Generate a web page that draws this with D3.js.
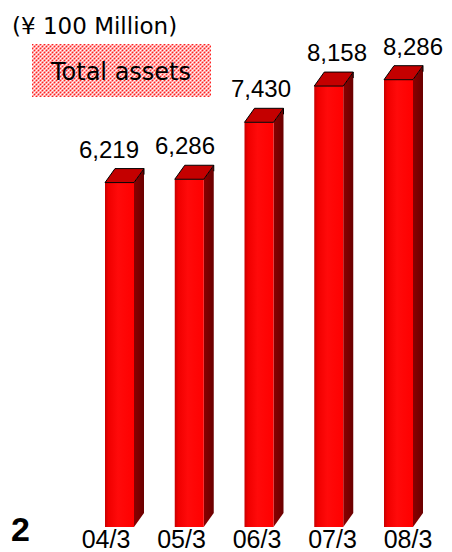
<!DOCTYPE html>
<html>
<head>
<meta charset="utf-8">
<script src="https://cdn.jsdelivr.net/npm/d3@7"></script>
<style>
  body { margin: 0; background: #fff; }
  text { font-family: "Liberation Sans", Arial, sans-serif; fill: #000; }
</style>
</head>
<body>
<div id="chart"></div>
<script>
// fiscal years and total assets (100 million yen)
const years = ['04/3', '05/3', '06/3', '07/3', '08/3'];
const assets = [6219, 6286, 7430, 8158, 8286];
const valueLabels = ['6,219', '6,286', '7,430', '8,158', '8,286'];

const width = 452, height = 552;
const depth = { dx: 10, dy: 14 };
const barW = 29;

const svg = d3.select('#chart').append('svg')
    .attr('width', width)
    .attr('height', height);

const defs = svg.append('defs');

// front face shading
const grad = defs.append('linearGradient').attr('id', 'front');
grad.append('stop').attr('offset', '0%').attr('stop-color', '#c80000');
grad.append('stop').attr('offset', '12%').attr('stop-color', '#f00000');
grad.append('stop').attr('offset', '45%').attr('stop-color', '#ff0a0a');
grad.append('stop').attr('offset', '100%').attr('stop-color', '#ff0000');

const sideGrad = defs.append('linearGradient').attr('id', 'side');
sideGrad.append('stop').attr('offset', '0%').attr('stop-color', '#8a0000');
sideGrad.append('stop').attr('offset', '100%').attr('stop-color', '#6a0000');

// dithered pink for the legend box
const pat = defs.append('pattern')
    .attr('id', 'dots')
    .attr('width', 4).attr('height', 4)
    .attr('patternUnits', 'userSpaceOnUse');
pat.append('rect').attr('width', 4).attr('height', 4).attr('fill', '#ff9c9c');
pat.append('rect').attr('x', 0).attr('y', 0).attr('width', 1).attr('height', 1).attr('fill', '#ff2020');
pat.append('rect').attr('x', 2).attr('y', 2).attr('width', 1).attr('height', 1).attr('fill', '#ff2020');
pat.append('rect').attr('x', 2).attr('y', 0).attr('width', 1).attr('height', 1).attr('fill', '#ffffff');
pat.append('rect').attr('x', 0).attr('y', 2).attr('width', 1).attr('height', 1).attr('fill', '#ffffff');
pat.append('rect').attr('x', 1).attr('y', 1).attr('width', 1).attr('height', 1).attr('fill', '#ffd0d0');
pat.append('rect').attr('x', 3).attr('y', 3).attr('width', 1).attr('height', 1).attr('fill', '#ffd0d0');

// scales
const x = d3.scalePoint()
    .domain(years)
    .range([105, 384]);

const y = d3.scaleLinear()
    .domain([-700, 8300])
    .range([527, 79]);

// the text boxes sit on a slightly wider grid than the bars
const labelX = d3.scalePoint().domain(years).range([109, 413]);
const catX = d3.scalePoint().domain(years).range([106, 408]);

const rows = years.map((d, i) => ({ year: d, value: assets[i], label: valueLabels[i] }));

// bars
const bars = svg.selectAll('.bar')
    .data(rows)
    .join('g')
    .attr('class', 'bar');

bars.append('path')
    .attr('fill', 'url(#side)')
    .attr('d', d => {
        const x0 = x(d.year) + barW, top = y(d.value), bot = y(-700);
        return `M${x0},${top} L${x0 + depth.dx},${top - depth.dy} L${x0 + depth.dx},${bot - depth.dy} L${x0},${bot} Z`;
    });

bars.append('rect')
    .attr('x', d => x(d.year))
    .attr('y', d => y(d.value))
    .attr('width', barW)
    .attr('height', d => y(-700) - y(d.value))
    .attr('fill', 'url(#front)');

bars.append('path')
    .attr('fill', '#c40000')
    .attr('stroke', '#000')
    .attr('stroke-width', 1)
    .attr('stroke-linejoin', 'round')
    .attr('d', d => {
        const x0 = x(d.year), top = y(d.value);
        return `M${x0},${top} L${x0 + depth.dx},${top - depth.dy} L${x0 + barW + depth.dx},${top - depth.dy} L${x0 + barW},${top} Z`;
    });

// outline on the top-right edge of the side face
bars.append('path')
    .attr('fill', 'none')
    .attr('stroke', '#000')
    .attr('stroke-width', 1)
    .attr('d', d => {
        const x0 = x(d.year) + barW + depth.dx, top = y(d.value) - depth.dy;
        return `M${x0},${top} L${x0},${top + 6}`;
    });

// value labels
svg.selectAll('.val')
    .data(rows)
    .join('text')
    .attr('class', 'val')
    .attr('x', d => labelX(d.year))
    .attr('y', d => Math.max(55, y(d.value) - 25))
    .attr('text-anchor', 'middle')
    .attr('font-size', 24)
    .text(d => d.label);

// category labels
svg.selectAll('.cat')
    .data(years)
    .join('text')
    .attr('class', 'cat')
    .attr('x', d => catX(d))
    .attr('y', 548)
    .attr('text-anchor', 'middle')
    .attr('font-size', 25)
    .text(d => d);

// unit
svg.append('text')
    .attr('x', 12)
    .attr('y', 34)
    .attr('font-size', 23)
    .style('font-family', '"DejaVu Sans", sans-serif')
    .text('(¥ 100 Million)');

// legend box
svg.append('rect')
    .attr('x', 32).attr('y', 44)
    .attr('width', 179).attr('height', 53)
    .attr('fill', 'url(#dots)');

svg.append('text')
    .attr('x', 121)
    .attr('y', 80)
    .attr('text-anchor', 'middle')
    .attr('font-size', 24)
    .style('font-family', '"DejaVu Sans", sans-serif')
    .text('Total assets');

// page number
svg.append('text')
    .attr('x', 11)
    .attr('y', 541)
    .attr('font-size', 34)
    .attr('font-weight', 'bold')
    .text('2');
</script>
</body>
</html>
